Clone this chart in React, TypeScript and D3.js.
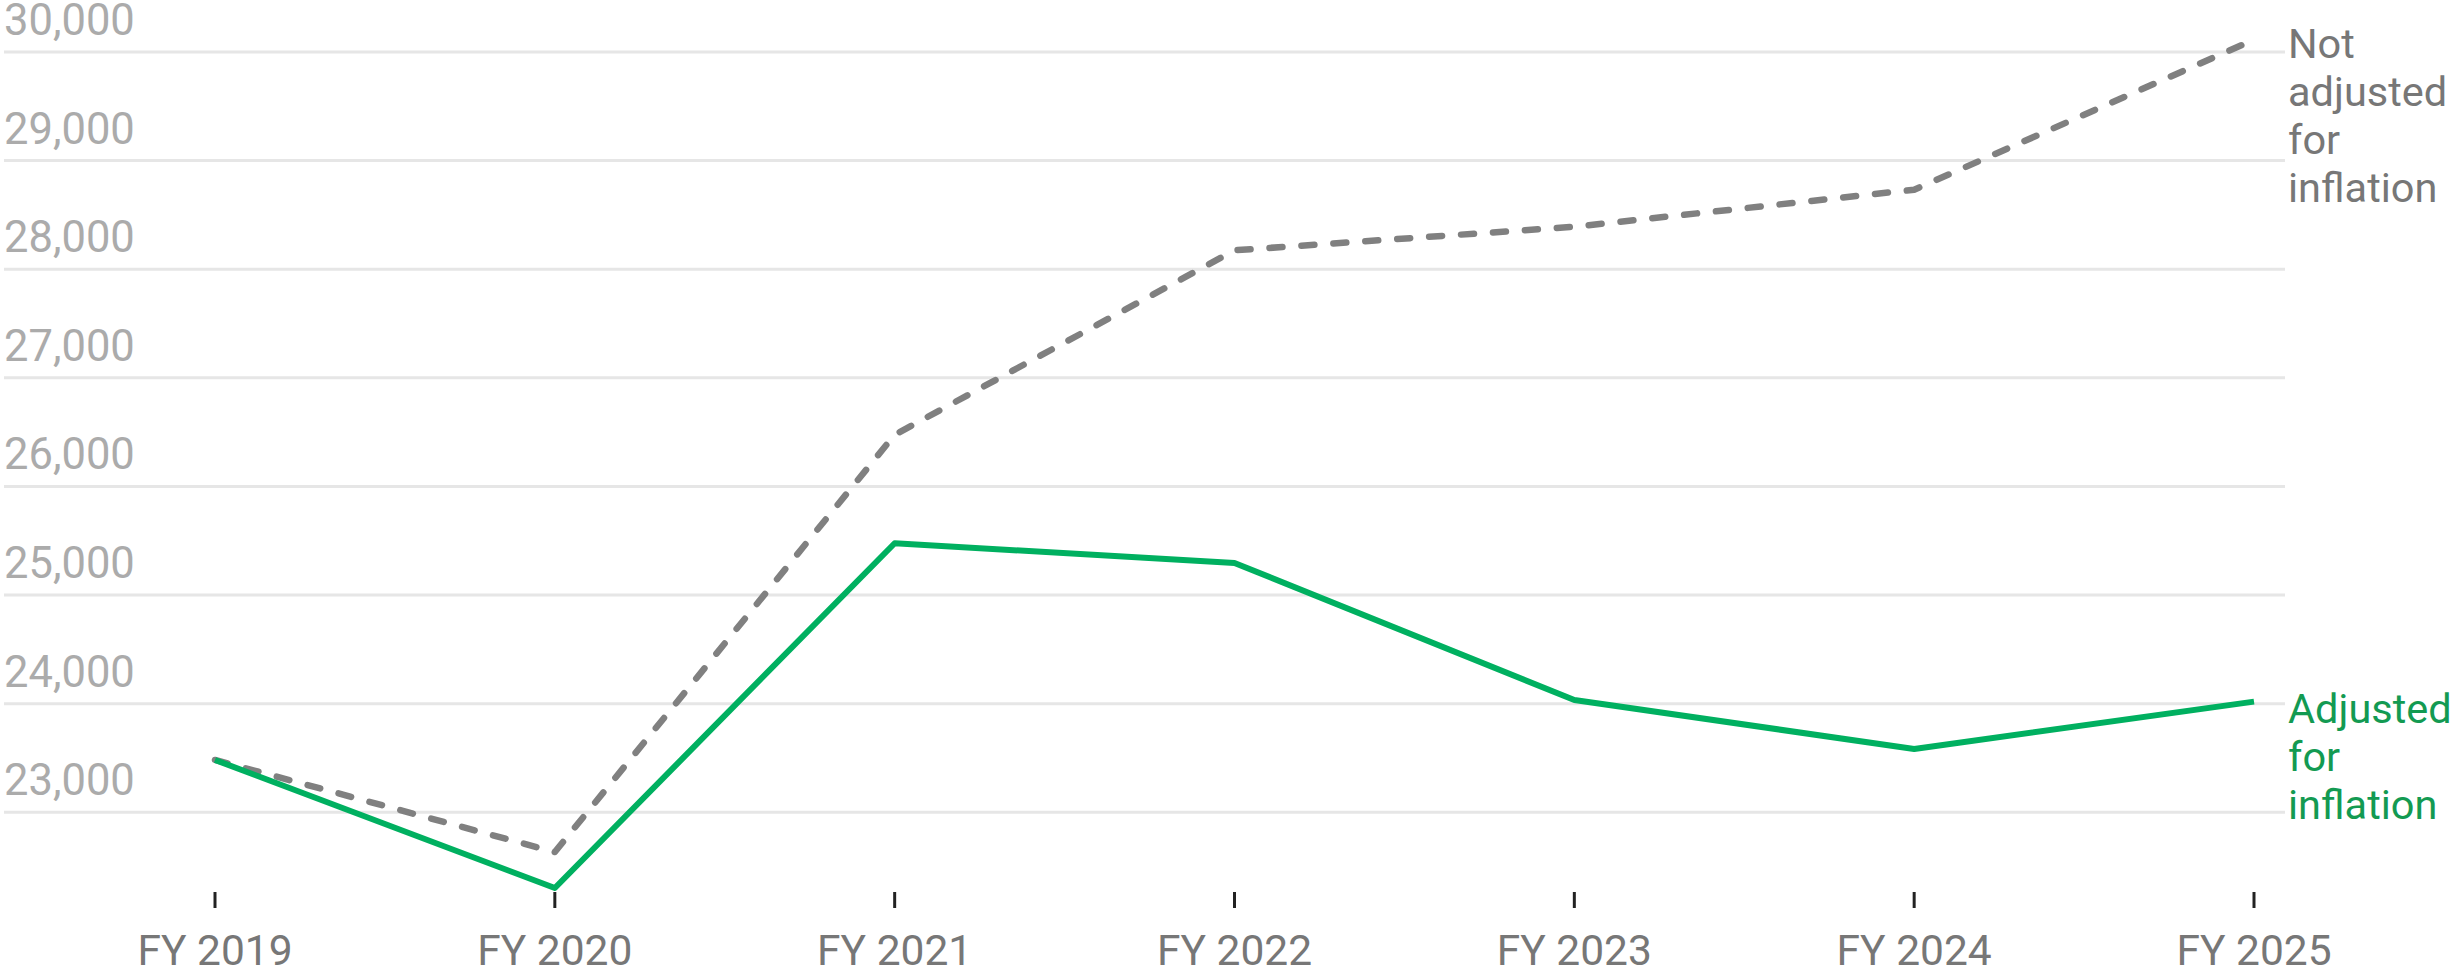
import React from "react";
import * as d3 from "d3";

const categories = ["FY 2019", "FY 2020", "FY 2021", "FY 2022", "FY 2023", "FY 2024", "FY 2025"];
const notAdjusted = [23482, 22634, 26476, 28174, 28391, 28732, 30113];
const adjusted = [23482, 22303, 25477, 25296, 24034, 23583, 24019];
const yTicks = [23000, 24000, 25000, 26000, 27000, 28000, 29000, 30000];
const notAdjustedLabel = ["Not", "adjusted", "for", "inflation"];
const adjustedLabel = ["Adjusted", "for", "inflation"];

const W = 2456;
const H = 974;
const FONT = "Roboto, 'Noto Sans', sans-serif";

export default function App() {
  const x = d3.scalePoint<string>().domain(categories).range([215, 2254]);
  const y = d3.scaleLinear().domain([23000, 30000]).range([812.3, 52]);
  const line = d3
    .line<number>()
    .x((_, i) => x(categories[i]) as number)
    .y((d) => y(d));
  const fmt = d3.format(",");
  const gridX0 = 4;
  const gridX1 = 2285;
  const labelX = 2288;

  return (
    <svg
      width={W}
      height={H}
      style={{ position: "absolute", left: 0, top: 0, background: "#fff" }}
      fontFamily={FONT}
    >
      {yTicks.map((t) => (
        <g key={t}>
          <line x1={gridX0} x2={gridX1} y1={y(t)} y2={y(t)} stroke="#e6e6e6" strokeWidth={3} />
          <text x={gridX0} y={y(t) - 17} fontSize={43.5} fill="#ababab">
            {fmt(t)}
          </text>
        </g>
      ))}
      {categories.map((c) => (
        <g key={c}>
          <line x1={x(c)} x2={x(c)} y1={892} y2={908} stroke="#222" strokeWidth={3} />
          <text x={x(c)} y={965} fontSize={42.5} fill="#777" textAnchor="middle">
            {c}
          </text>
        </g>
      ))}
      <path
        d={line(notAdjusted) || ""}
        fill="none"
        stroke="#808080"
        strokeWidth={6.5}
        strokeDasharray="13 19"
        strokeLinecap="round"
        strokeLinejoin="round"
      />
      <path
        d={line(adjusted) || ""}
        fill="none"
        stroke="#00b060"
        strokeWidth={6}
        strokeLinejoin="round"
      />
      <text x={labelX} fontSize={41.5} fill="#777">
        {notAdjustedLabel.map((s, i) => (
          <tspan key={i} x={labelX} y={58 + i * 48}>
            {s}
          </tspan>
        ))}
      </text>
      <text x={labelX} fontSize={41.5} fill="#139a52">
        {adjustedLabel.map((s, i) => (
          <tspan key={i} x={labelX} y={723 + i * 48}>
            {s}
          </tspan>
        ))}
      </text>
    </svg>
  );
}
